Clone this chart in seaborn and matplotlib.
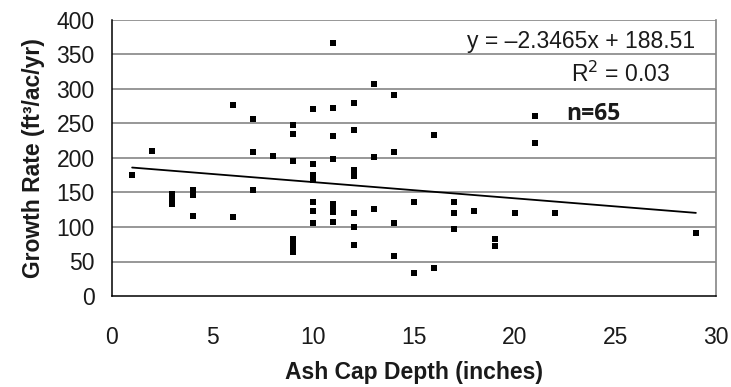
import matplotlib
matplotlib.use("Agg")
import matplotlib.pyplot as plt
import seaborn as sns
import numpy as np
import pandas as pd

# Data
depth = [1, 2, 3, 3, 3, 4, 4, 4, 6, 6, 7, 7, 7, 8,
         9, 9, 9, 9, 9, 9, 9,
         10, 10, 10, 10, 10, 10, 10,
         11, 11, 11, 11, 11, 11, 11, 11,
         12, 12, 12, 12, 12, 12, 12,
         13, 13, 13, 14, 14, 14, 14, 15, 15, 16, 16,
         17, 17, 17, 18, 19, 19, 20, 21, 21, 22, 29]
growth = [175, 210, 148, 140, 133, 153, 146, 116, 277, 114, 257, 209, 154, 203,
          248, 235, 195, 83, 77, 71, 64,
          271, 191, 175, 168, 136, 123, 106,
          366, 273, 232, 199, 134, 128, 122, 107,
          280, 240, 183, 174, 121, 100, 74,
          307, 202, 126, 291, 208, 106, 58, 136, 33, 234, 40,
          136, 120, 97, 123, 82, 72, 121, 261, 222, 120, 91]
slope = -2.3465
intercept = 188.51
r2_text = "0.03"
n_text = "n=65"
x_ticks = [0, 5, 10, 15, 20, 25, 30]
y_ticks = [0, 50, 100, 150, 200, 250, 300, 350, 400]

df = pd.DataFrame({"depth": depth, "growth": growth})
xs = np.array([min(depth), max(depth)], dtype=float)
trend = pd.DataFrame({"x": xs, "y": slope * xs + intercept})

sns.set_theme(style="white")
plt.rcParams["font.family"] = ["Liberation Sans", "DejaVu Sans"]

W, H = 731, 387
fig = plt.figure(figsize=(W / 100, H / 100), dpi=100)
ax = fig.add_axes([112 / W, 1 - 296 / H, (716 - 112) / W, (296 - 20) / H])

for yv in y_ticks[1:]:
    ax.axhline(yv, color="#858585", lw=1.2, zorder=0)

sns.scatterplot(data=df, x="depth", y="growth", marker="s", s=18, color="black",
                linewidth=0, ax=ax, zorder=3)
sns.lineplot(data=trend, x="x", y="y", color="black", lw=1.3, ax=ax, zorder=2)

ax.set_xlim(0, 30)
ax.set_ylim(0, 400)
ax.set_xticks(x_ticks)
ax.set_yticks(y_ticks)
ax.tick_params(axis="both", which="both", direction="out", length=6.5, width=1,
               color="black", labelsize=16.5, labelcolor="#1a1a1a")
ax.tick_params(axis="x", pad=15)
ax.tick_params(axis="y", pad=6)

ax.spines["top"].set_visible(False)
ax.spines["right"].set_color("#858585")
ax.spines["right"].set_linewidth(1.2)
for side in ["left", "bottom"]:
    ax.spines[side].set_color("black")
    ax.spines[side].set_linewidth(1.1)

ax.set_xlabel("Ash Cap Depth (inches)", fontsize=16.5, fontweight="bold", labelpad=9,
              color="#1a1a1a")
ax.set_ylabel("Growth Rate (ft³/ac/yr)", fontsize=16.5, fontweight="bold", labelpad=8,
              color="#1a1a1a")

eq = f"y = \u2013{abs(slope):.4f}x + {intercept:.2f}"
fig.text(695 / W, 1 - 48 / H, eq, ha="right", va="baseline",
         fontsize=16.5, color="#1a1a1a")
fig.text(670 / W, 1 - 82 / H, f"R$^2$ = {r2_text}",
         ha="right", va="baseline", fontsize=16.5, color="#1a1a1a")
fig.text(566 / W, 1 - 120 / H, n_text, ha="left", va="baseline",
         fontsize=16.5, fontweight="bold", family=["Open Sans", "DejaVu Sans"],
         color="#1a1a1a")

fig.savefig("out.png", dpi=100)
